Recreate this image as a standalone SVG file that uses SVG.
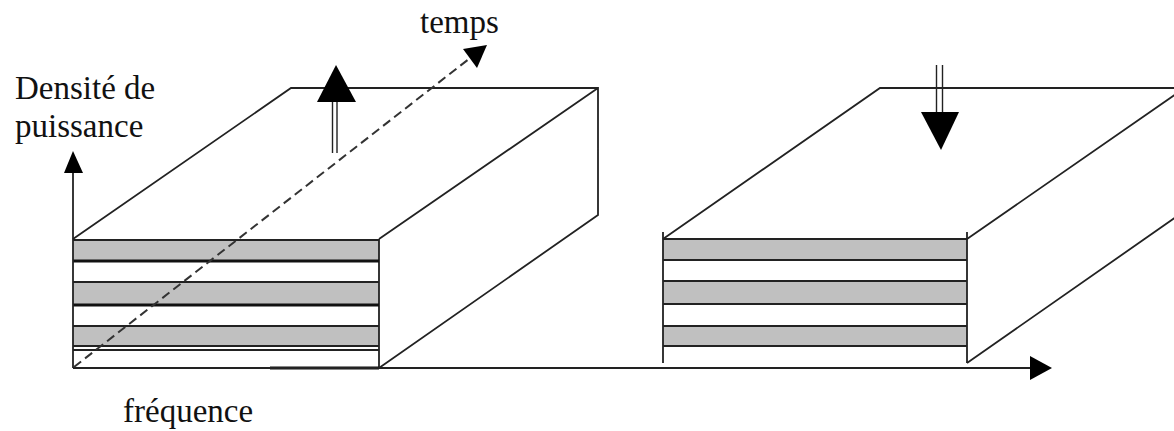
<svg xmlns="http://www.w3.org/2000/svg" width="1174" height="431" viewBox="0 0 1174 431">
<style>
.ln{stroke:#222;stroke-width:1.8;fill:none}
.thk{stroke:#111;stroke-width:3;fill:none}
.gray{fill:#c0c0c0;stroke:none}
.head{fill:#000;stroke:none}
.dash{stroke:#333;stroke-width:2;fill:none;stroke-dasharray:9 5}
.lbl{font-family:"Liberation Serif","Times New Roman",serif;font-size:33px;fill:#111}
</style>
<rect width="1174" height="431" fill="#fff"/>
<g id="block-left">
<rect class="gray" x="73" y="240" width="306" height="21"/>
<rect class="gray" x="73" y="282" width="306" height="23"/>
<rect class="gray" x="73" y="326" width="306" height="20"/>
<path class="ln" d="M73 240H379M73 282H379M73 326H379M73 346H379M73 350H379M379 239V368"/>
<path class="thk" d="M73 261H379M73 305H379M270 368H379"/>
<path class="ln" d="M73 239L291 88H598V215L379 368M379 239L598 88"/>
</g>
<g id="block-right">
<rect class="gray" x="663" y="239" width="304" height="21"/>
<rect class="gray" x="663" y="281" width="304" height="23"/>
<rect class="gray" x="663" y="326" width="304" height="20"/>
<path class="ln" d="M663 239H967M663 260H967M663 281H967M663 304H967M663 326H967M663 346H967M663 232V363M967 232V363"/>
<path class="ln" d="M663 239L880 88H1176M967 239L1176 94M967 363L1176 217"/>
</g>
<g id="arrow-up">
<path class="ln" d="M332.5 153V100M337 153V100" style="stroke-width:1.4"/>
<polygon class="head" points="336,65 356,102 317,102"/>
</g>
<g id="arrow-down">
<path class="ln" d="M936.5 65V115M942.5 65V115" style="stroke-width:1.4"/>
<polygon class="head" points="921,112 959,112 941,150"/>
</g>
<g id="connectors">
<path class="ln" d="M73 368V170"/>
<polygon class="head" points="73,151 83,173 64,173"/>
<path class="ln" d="M73 368H1032"/>
<polygon class="head" points="1052,368 1030,356 1030,380"/>
<path class="dash" d="M74 367L474 55"/>
<polygon class="head" points="487,45 477,68 463,49"/>
</g>
<g id="labels">
<text class="lbl" x="15" y="99">Densité de</text>
<text class="lbl" x="15" y="137">puissance</text>
<text class="lbl" x="420" y="33">temps</text>
<text class="lbl" x="123" y="422">fréquence</text>
</g>
</svg>
